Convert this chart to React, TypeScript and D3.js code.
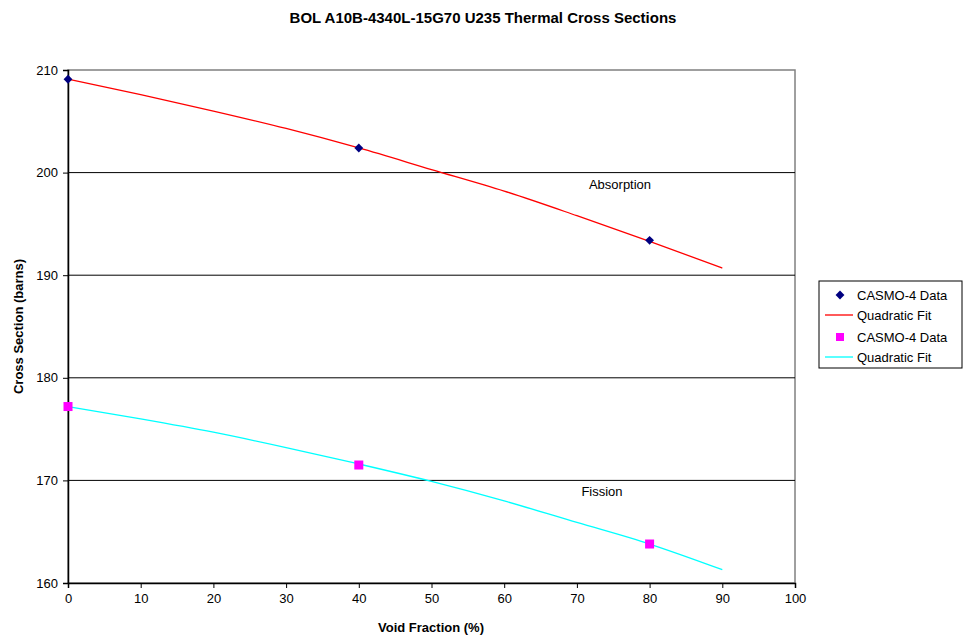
import React, { useEffect, useRef } from 'react';
import * as d3 from 'd3';

// CASMO-4 data points (void fraction %, barns)
const dataX = [0, 40, 80];
const absorptionData = [209.1, 202.4, 193.4];
const fissionData = [177.2, 171.5, 163.8];

// quadratic fit curves, every 10%
const fitX = [0, 10, 20, 30, 40, 50, 60, 70, 80, 90];
const absorptionFit = [209.1, 207.6, 206.0, 204.3, 202.4, 200.3, 198.2, 195.8, 193.3, 190.7];
const fissionFit = [177.2, 176.0, 174.7, 173.2, 171.6, 169.9, 168.0, 165.9, 163.8, 161.3];

const xTicks = [0, 10, 20, 30, 40, 50, 60, 70, 80, 90, 100];
const yTicks = [160, 170, 180, 190, 200, 210];
const legendLabels = ['CASMO-4 Data', 'Quadratic Fit', 'CASMO-4 Data', 'Quadratic Fit'];

const App = () => {
  const svgRef = useRef<SVGSVGElement>(null);

  useEffect(() => {
    const svg = d3.select(svgRef.current);
    svg.selectAll('*').remove();
    const font = 'Liberation Sans, Arial, sans-serif';

    const left = 68, right = 795, top = 70, bottom = 583;
    const x = d3.scaleLinear().domain([0, 100]).range([left, right]);
    const y = d3.scaleLinear().domain([160, 210]).range([bottom, top]);

    // title
    svg.append('text')
      .attr('x', 483).attr('y', 23)
      .attr('text-anchor', 'middle')
      .attr('font-family', font).attr('font-size', 15).attr('font-weight', 'bold')
      .text('BOL A10B-4340L-15G70 U235 Thermal Cross Sections');

    // plot frame (gray) and gridlines (black)
    svg.append('rect')
      .attr('x', left).attr('y', top)
      .attr('width', right - left).attr('height', bottom - top)
      .attr('fill', 'none').attr('stroke', '#808080').attr('stroke-width', 1.5);

    svg.append('g').selectAll('line')
      .data(yTicks.filter(d => d > 160 && d < 210))
      .join('line')
      .attr('x1', left).attr('x2', right)
      .attr('y1', d => y(d)).attr('y2', d => y(d))
      .attr('stroke', '#000').attr('stroke-width', 1);

    // axes
    const xAxis = svg.append('g')
      .attr('transform', `translate(0,${bottom})`)
      .call(d3.axisBottom(x).tickValues(xTicks).tickSize(5).tickPadding(6));
    const yAxis = svg.append('g')
      .attr('transform', `translate(${left},0)`)
      .call(d3.axisLeft(y).tickValues(yTicks).tickSize(5).tickPadding(5));
    [xAxis, yAxis].forEach(a => {
      a.select('.domain').attr('stroke', '#000').attr('stroke-width', 1.5);
      a.selectAll('.tick line').attr('stroke', '#000');
      a.selectAll('text').attr('font-family', font).attr('font-size', 13).attr('fill', '#000');
    });

    // axis titles
    svg.append('text')
      .attr('x', 431).attr('y', 632)
      .attr('text-anchor', 'middle')
      .attr('font-family', font).attr('font-size', 13).attr('font-weight', 'bold')
      .text('Void Fraction (%)');
    svg.append('text')
      .attr('transform', `translate(23,${(top + bottom) / 2}) rotate(-90)`)
      .attr('text-anchor', 'middle')
      .attr('font-family', font).attr('font-size', 13).attr('font-weight', 'bold')
      .text('Cross Section (barns)');

    // fit lines
    const line = d3.line<number>()
      .x((_, i) => x(fitX[i]))
      .y(d => y(d))
      .curve(d3.curveMonotoneX);
    svg.append('path').attr('d', line(absorptionFit)).attr('fill', 'none')
      .attr('stroke', '#ff0000').attr('stroke-width', 1.3);
    svg.append('path').attr('d', line(fissionFit)).attr('fill', 'none')
      .attr('stroke', '#00ffff').attr('stroke-width', 1.3);

    // data markers
    const diamond = d3.symbol().type(d3.symbolDiamond2).size(50);
    svg.append('g').selectAll('path')
      .data(absorptionData)
      .join('path')
      .attr('d', diamond)
      .attr('transform', (d, i) => `translate(${x(dataX[i])},${y(d)})`)
      .attr('fill', '#000080');
    svg.append('g').selectAll('rect')
      .data(fissionData)
      .join('rect')
      .attr('x', (d, i) => x(dataX[i]) - 4.5)
      .attr('y', d => y(d) - 4.5)
      .attr('width', 9).attr('height', 9)
      .attr('fill', '#ff00ff');

    // curve labels
    svg.append('text').attr('x', 620).attr('y', 189).attr('text-anchor', 'middle')
      .attr('font-family', font).attr('font-size', 13).text('Absorption');
    svg.append('text').attr('x', 602).attr('y', 496).attr('text-anchor', 'middle')
      .attr('font-family', font).attr('font-size', 13).text('Fission');

    // legend
    const lg = svg.append('g').attr('transform', 'translate(819,281)');
    lg.append('rect').attr('width', 143).attr('height', 87)
      .attr('fill', '#fff').attr('stroke', '#000').attr('stroke-width', 1);
    const rowY = [14, 34, 56, 76];
    legendLabels.forEach((label, i) => {
      const g = lg.append('g').attr('transform', `translate(0,${rowY[i]})`);
      if (i === 0) {
        g.append('path').attr('d', diamond).attr('transform', 'translate(21,0)').attr('fill', '#000080');
      } else if (i === 2) {
        g.append('rect').attr('x', 17).attr('y', -4).attr('width', 8).attr('height', 8).attr('fill', '#ff00ff');
      } else {
        g.append('line').attr('x1', 6).attr('x2', 34).attr('y1', 0).attr('y2', 0)
          .attr('stroke', i === 1 ? '#ff0000' : '#00ffff').attr('stroke-width', 1.3);
      }
      g.append('text').attr('x', 38).attr('y', 5)
        .attr('font-family', font).attr('font-size', 13).text(label);
    });
  }, []);

  return (
    <svg ref={svgRef} width={966} height={638}
      style={{ position: 'absolute', left: 0, top: 0, background: '#fff' }} />
  );
};

export default App;
